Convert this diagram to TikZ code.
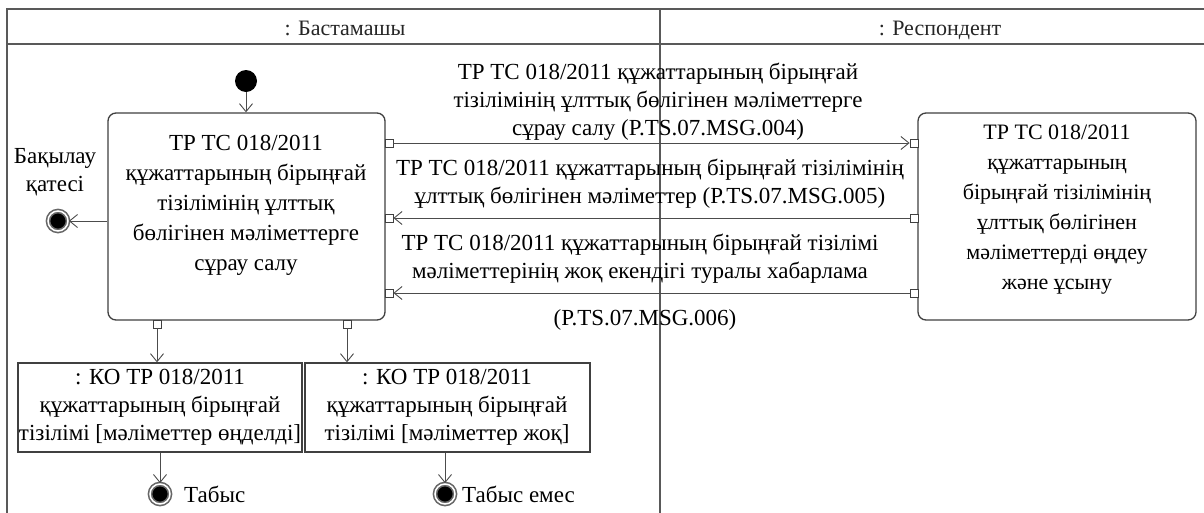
\documentclass[tikz,border=0pt]{standalone}
\usepackage{fontspec}
\setmainfont{Liberation Serif}
\usetikzlibrary{arrows.meta}
\begin{document}
\begin{tikzpicture}[x=1pt,y=-1pt,
  frameline/.style={draw=black!65, line width=1.8pt},
  actbox/.style={draw=black!75, line width=1.3pt, rounded corners=8pt, fill=white, inner sep=0pt},
  objbox/.style={draw=black!75, line width=1.3pt, fill=white, inner sep=0pt},
  port/.style={draw=black!75, fill=white, line width=0.8pt, minimum size=8pt, inner sep=0pt},
  flow/.style={draw=black!70, line width=0.9pt, -{Straight Barb[length=8pt,width=13pt]}},
  txt/.style={align=center, font=\fontsize{23}{28}\selectfont, text=black, inner sep=0pt},
  hdr/.style={font=\fontsize{22}{24}\selectfont, text=black!85, inner sep=0pt, anchor=base},
  startnode/.style={circle, fill=black, minimum size=22pt, inner sep=0pt},
  endnode/.style={circle, fill=black, minimum size=20pt, inner sep=0pt, draw=black!60, line width=1.6pt, double=white, double distance=1.5pt}
]
\useasboundingbox (0,0) rectangle (1204,512);
\fill[white] (0,0) rectangle (1204,512);
% frame
\draw[frameline] (7,520) -- (7,9) -- (1210,9);
\draw[frameline] (7,44) -- (1210,44);
\draw[frameline] (660,9) -- (660,520);
\node[hdr] (h1) at (345,35) {: Бастамашы};
\node[hdr] (h2) at (940,35) {: Респондент};

% initial
\node[startnode] (init) at (246,81) {};
% left activity
\node[actbox, minimum width=277pt, minimum height=207pt] (req) at (246.5,216.5) {};
\node[txt, font=\fontsize{23}{30}\selectfont] (reqtxt) at (246,205) {ТР ТС 018/2011\\құжаттарының бірыңғай\\тізілімінің ұлттық\\бөлігінен мәліметтерге\\сұрау салу};
\draw[flow] (init) -- (req.north -| init);

% right activity
\node[actbox, minimum width=278pt, minimum height=207pt] (resp) at (1057,216.5) {};
\node[txt, font=\fontsize{22}{30}\selectfont] (resptxt) at (1057,210) {ТР ТС 018/2011\\құжаттарының\\бірыңғай тізілімінің\\ұлттық бөлігінен\\мәліметтерді өңдеу\\және ұсыну};

% ports left box right side
\node[port] (pa1) at (389,143) {};
\node[port] (pa2) at (389,218) {};
\node[port] (pa3) at (389,293) {};
% ports right box left side
\node[port] (pb1) at (914,143) {};
\node[port] (pb2) at (914,218) {};
\node[port] (pb3) at (914,293) {};
% bottom ports
\node[port] (pc1) at (157,324) {};
\node[port] (pc2) at (347,324) {};

% messages
\draw[flow] (pa1.east) -- (pb1.west);
\draw[flow] (pb2.west) -- (pa2.east);
\draw[flow] (pb3.west) -- (pa3.east);
\node[txt] (m1) at (658,102) {ТР ТС 018/2011 құжаттарының бірыңғай\\тізілімінің ұлттық бөлігінен мәліметтерге\\сұрау салу (P.TS.07.MSG.004)};
\node[txt] (m2) at (650,184) {ТР ТС 018/2011 құжаттарының бірыңғай тізілімінің\\ұлттық бөлігінен мәліметтер (P.TS.07.MSG.005)};
\node[txt] (m3) at (640,259) {ТР ТС 018/2011 құжаттарының бірыңғай тізілімі\\мәліметтерінің жоқ екендігі туралы хабарлама};
\node[txt] (m3b) at (645,320) {(P.TS.07.MSG.006)};

% control error
\node[endnode] (errend) at (58,221) {};
\draw[flow] (req.west |- errend) -- (errend);
\node[txt] (errlbl) at (55,172) {Бақылау\\қатесі};

% objects
\node[objbox, minimum width=284pt, minimum height=89pt] (obj1) at (160,407.5) {};
\node[txt] (obj1t) at (160,407) {: КО ТР 018/2011\\құжаттарының бірыңғай\\тізілімі [мәліметтер өңделді]};
\node[objbox, minimum width=285pt, minimum height=89pt] (obj2) at (447.5,407.5) {};
\node[txt] (obj2t) at (447,407) {: КО ТР 018/2011\\құжаттарының бірыңғай\\тізілімі [мәліметтер жоқ]};
\draw[flow] (pc1.south) -- (pc1.south |- obj1.north);
\draw[flow] (pc2.south) -- (pc2.south |- obj2.north);

% finals
\node[endnode] (fin1) at (160,494) {};
\node[endnode] (fin2) at (445,494) {};
\draw[flow] (obj1.south -| fin1) -- (fin1);
\draw[flow] (obj2.south -| fin2) -- (fin2);
\node[txt, anchor=west] (fin1l) at (184,494) {Табыс};
\node[txt, anchor=west] (fin2l) at (462,494) {Табыс емес};
\end{tikzpicture}
\end{document}
